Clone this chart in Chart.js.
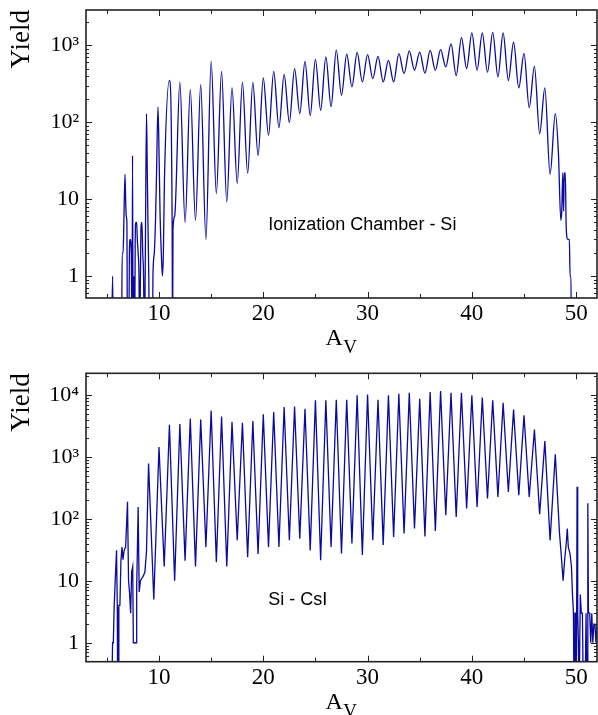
<!DOCTYPE html>
<html><head><meta charset="utf-8">
<script src="https://cdn.jsdelivr.net/npm/chart.js@4.4.0/dist/chart.umd.min.js"></script>
<style>
html,body{margin:0;padding:0;background:#fff;}
#wrap{position:relative;width:598px;height:715px;overflow:hidden;}
.panel{position:absolute;left:0;width:598px;}
#p1{top:0;height:360px;}
#p2{top:360px;height:355px;}
</style></head><body>
<div id="wrap">
  <div class="panel" id="p1"><canvas id="c1"></canvas></div>
  <div class="panel" id="p2"><canvas id="c2"></canvas></div>
</div>
<script>
// ---------------- data ----------------
const massNumbers = [9,10,11,12,13,14,15,16,17,18,19,20,21,22,23,24,25,26,27,28,29,30,31,32,33,34,35,36,37,38,39,40,41,42,43,44,45,46,47,48];

// Ionization Chamber - Si : peak yield at each A and minimum between A and A+1
const icPeaks = [null,null,350,334,266,308,620,460,282,334,330,377,460,420,500,620,660,710,870,770,810,760,720,640,780,850,820,860,880,1050,1260,1460,1460,1480,1450,1100,790,533,280,130];
const icValleys = [null,null,6,5,5.3,3,11.8,9.2,16,21.6,37,68,85,100,130,123,143,160,225,290,335,370,335,335,430,475,435,475,525,405,500,475,450,390,350,280,155,71,21,null];
// irregular low-A and high-A parts (0.1 = empty bin, below the axis)
const icExtraMass  = [5.45,5.55,5.62,6.40,6.47,6.56,6.63,6.74,6.80,6.86,6.92,6.98,7.10,7.16,7.24,7.34,7.42,7.46,7.52,7.60,7.66,7.72,7.78,7.86,7.92,8.00,8.08,8.14,8.22,8.28,8.36,8.44,8.52,8.60,8.70,8.80,8.86,8.94,9.02,9.10,9.36,9.42,9.55,9.66,9.76,9.90,9.98,10.10,10.22,10.33,10.42,10.52,11.26,11.30,11.34,48.30,48.53,48.62,48.72,48.80,48.86,48.96,49.05,49.20,49.35,49.42,49.50,49.56,52.00];
const icExtraYield = [0.1,1,0.1,0.1,2,2,5,21,10,6,5,0.1,0.1,2,3,2,0.1,37,0.1,1,0.1,3,5,5,3,2,1,0.1,1,4.5,5,2,1,0.1,3,130,35,5,1,0.1,0.1,1,2,5,20,158,62,6.6,2,1,2,17,5,0.1,4,40,5.3,7,22,7,22,22,4.2,3,3,1,1,0.1,0.1];

// Si - CsI
const siPeaks = [780,1450,3300,3400,4150,4000,5600,4500,3650,3550,3800,4900,5300,6400,6500,6000,8200,8200,8400,8400,9900,10200,8400,9900,10500,10900,8700,11200,11600,10900,10900,9900,9100,8200,7500,5800,4700,2760,1800,1100];
const siValleys = [5,17,10,21,17,35,20,17,45,24,27,35,35,45,48,31,21.5,35,27.5,40,26,45,38,51,58,70,52,64,114,107,147,155,213,226,272,240,226,119,45,null];
const siExtraMass  = [5.45,5.55,5.62,5.70,5.80,5.93,6.00,6.04,6.10,6.15,6.25,6.35,6.45,6.55,6.65,6.80,6.98,7.08,7.18,7.28,7.38,7.48,7.54,7.80,7.86,8.00,8.10,8.22,8.36,8.50,8.65,8.80,48.40,48.58,48.75,48.90,49.05,49.15,49.25,49.40,49.55,49.65,49.74,49.80,49.88,49.95,50.02,50.09,50.15,50.22,50.28,50.40,50.50,50.60,50.70,50.85,50.95,51.05,51.12,51.18,51.30,51.40,51.50,51.60,51.70,51.80,51.90,52.00];
const siExtraYield = [0.1,1,1,3.8,10,31,3.8,0.1,0.1,4,4,21,35,22,31,35,188,10,6.3,3,14,17,1,1,7.5,155,6.6,10,11,12,14,30,60,25,10,22,40,70,35,28,17,6,3,0.1,3,3,0.1,330,3,1,0.1,6,3,3,0.1,0.1,3,0.1,178,3,3,1,3,1,2,2,1,2];

// axis ticks and labels
const xTickValues = [10,20,30,40,50];
const yTickValues = [1,10,100,1000,10000];
const yTickLabels = ['1','10','10\u00B2','10\u00B3','10\u2074'];
const panelLabels = ['Ionization Chamber - Si','Si - CsI'];
const yTitle = 'Yield';
const xTitleMain = 'A';
const xTitleSub = 'V';

// ---------------- helpers ----------------
function buildPoints(peaks, valleys, exX, exY){
  const pts = [];
  massNumbers.forEach((a,i)=>{
    if (peaks[i] != null) pts.push({x:a, y:peaks[i]});
    if (valleys[i] != null) pts.push({x:a+0.5, y:valleys[i]});
  });
  exX.forEach((a,i)=>pts.push({x:a, y:exY[i]}));
  pts.sort((p,q)=>p.x-q.x);
  return pts;
}

const SERIF = "'Liberation Serif','Times New Roman','DejaVu Serif',serif";
const SANS = "'Liberation Sans',Arial,'DejaVu Sans',sans-serif";
const LINE_COLOR = '#0a0aa0';
const AXIS_COLOR = '#222';

const decor = {
  id:'decor',
  afterDatasetsDraw(chart, args, opts){
    const ctx = chart.ctx;
    const {left,right,top,bottom} = chart.chartArea;
    const xs = chart.scales.x, ys = chart.scales.y;
    ctx.save();
    ctx.strokeStyle = AXIS_COLOR;
    ctx.lineWidth = 1;
    ctx.beginPath();
    // x ticks (inward, bottom and top)
    for (let v = 5; v <= xs.max; v += 5){
      if (v < xs.min) continue;
      const px = Math.round(xs.getPixelForValue(v)) + 0.5;
      const len = (v % 10 === 0) ? 6 : 4;
      ctx.moveTo(px, bottom); ctx.lineTo(px, bottom - len);
      ctx.moveTo(px, top); ctx.lineTo(px, top + len);
    }
    // y ticks (log, inward, left and right)
    for (let d = -1; d <= 5; d++){
      for (let m = 1; m <= 9; m++){
        const v = m * Math.pow(10, d);
        if (v < ys.min || v > ys.max) continue;
        const py = Math.round(ys.getPixelForValue(v)) + 0.5;
        const len = (m === 1) ? 6 : 3;
        ctx.moveTo(left, py); ctx.lineTo(left + len, py);
        ctx.moveTo(right, py); ctx.lineTo(right - len, py);
      }
    }
    ctx.stroke();
    // frame
    ctx.lineWidth = 1.6;
    ctx.strokeRect(left, top, right - left, bottom - top);

    // panel annotation
    ctx.fillStyle = '#000';
    ctx.font = '18px ' + SANS;
    ctx.textAlign = 'left';
    ctx.textBaseline = 'alphabetic';
    ctx.fillText(opts.label, xs.getPixelForValue(20.48), ys.getPixelForValue(4));

    // y title
    ctx.save();
    ctx.font = '27px ' + SERIF;
    ctx.translate(29, top);
    ctx.rotate(-Math.PI/2);
    ctx.textAlign = 'right';
    ctx.fillText(yTitle, 0, 0);
    ctx.restore();

    // x title A_V
    const cx = (left + right) / 2;
    ctx.font = '24px ' + SERIF;
    ctx.textAlign = 'left';
    const ax = cx - 16;
    ctx.fillText(xTitleMain, ax, bottom + 47);
    const aw = ctx.measureText(xTitleMain).width;
    ctx.font = '19px ' + SERIF;
    ctx.fillText(xTitleSub, ax + aw + 0.5, bottom + 55);
    ctx.restore();
  }
};

function makePanel(canvasId, points, yMin, yMax, padTop, xHeight, mono, label){
  return new Chart(document.getElementById(canvasId), {
    type:'line',
    data:{datasets:[{
      data:points,
      borderColor:LINE_COLOR,
      borderWidth:1.3,
      pointRadius:0,
      fill:false,
      tension:0,
      cubicInterpolationMode: mono ? 'monotone' : 'default'
    }]},
    options:{
      responsive:true,
      maintainAspectRatio:false,
      animation:false,
      events:[],
      layout:{padding:{top:padTop, right:1, left:0, bottom:0}},
      plugins:{legend:{display:false}, tooltip:{enabled:false}, decor:{label:label}},
      scales:{
        x:{
          type:'linear', min:3, max:52,
          afterFit(s){ s.height = xHeight; s.paddingLeft = 0; s.paddingRight = 0; },
          grid:{display:false, drawTicks:false},
          border:{display:false},
          ticks:{
            stepSize:10, includeBounds:false, autoSkip:false, maxRotation:0, minRotation:0,
            padding:2, color:'#000', font:{family:SERIF, size:23},
            callback:(v)=> xTickValues.includes(v) ? String(v) : ''
          }
        },
        y:{
          type:'logarithmic', min:yMin, max:yMax,
          afterFit(s){ s.width = 86; s.paddingTop = 0; s.paddingBottom = 0; },
          grid:{display:false, drawTicks:false},
          border:{display:false},
          ticks:{
            autoSkip:false, padding:7, color:'#000', font:{family:SERIF, size:22},
            callback:(v)=>{
              const i = yTickValues.findIndex(t => Math.abs(v - t) / t < 1e-6);
              return i >= 0 ? yTickLabels[i] : '';
            }
          }
        }
      }
    },
    plugins:[decor]
  });
}

makePanel('c1', buildPoints(icPeaks, icValleys, icExtraMass, icExtraYield), 0.518, 2890, 10, 62, true, panelLabels[0]);
makePanel('c2', buildPoints(siPeaks, siValleys, siExtraMass, siExtraYield), 0.494, 22400, 13.3, 53.3, false, panelLabels[1]);
</script>
</body></html>
